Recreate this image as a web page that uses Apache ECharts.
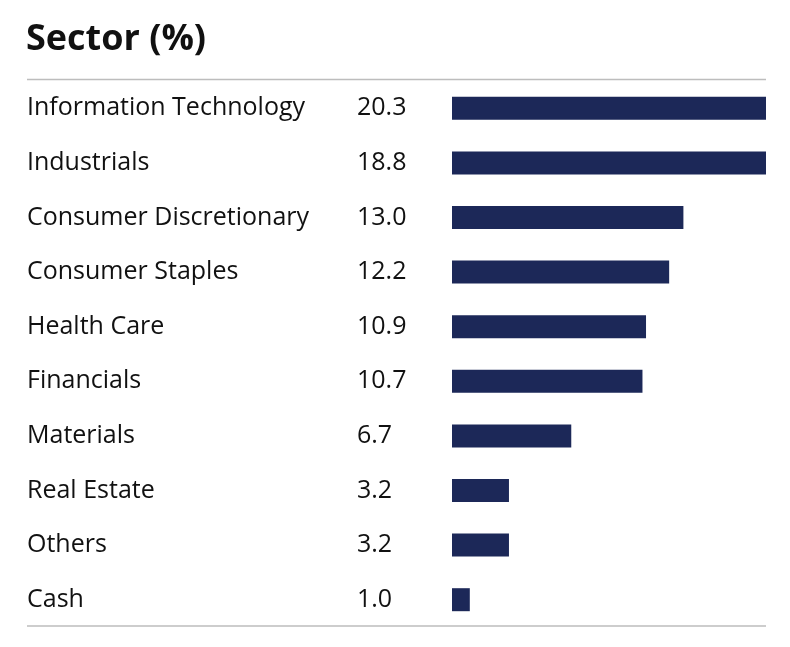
<!DOCTYPE html>
<html><head><meta charset="utf-8">
<script src="https://cdn.jsdelivr.net/npm/echarts@6/dist/echarts.min.js"></script>
<style>html,body{margin:0;padding:0;background:#fff}#c{width:790px;height:647px}</style>
</head><body><div id="c"></div>
<script>
var categories = ["Information Technology","Industrials","Consumer Discretionary","Consumer Staples","Health Care","Financials","Materials","Real Estate","Others","Cash"];
var values = [20.3,18.8,13.0,12.2,10.9,10.7,6.7,3.2,3.2,1.0];
var valueLabels = values.map(function(v){return v.toFixed(1);});
var title = "Sector (%)";

var chart = echarts.init(document.getElementById('c'));
var font = '"Open Sans", sans-serif';
chart.setOption({
  animation:false,
  title:{text:title,left:21,top:17,textStyle:{fontFamily:font,fontWeight:'bold',fontSize:36,color:'#111'}},
  grid:{left:452,width:314,top:81,height:546},
  xAxis:{type:'value',min:0,max:17.64,show:false},
  yAxis:[
    {type:'category',data:categories,inverse:true,axisLine:{show:false},axisTick:{show:false},
     axisLabel:{align:'left',margin:425,fontFamily:font,fontSize:25,color:'#111',padding:[3,0,0,0]}},
    {type:'category',data:valueLabels,inverse:true,position:'left',offset:0,axisLine:{show:false},axisTick:{show:false},
     axisLabel:{align:'left',margin:95,fontFamily:font,fontSize:25,color:'#111',padding:[3,0,0,0]}}
  ],
  graphic:[
    {type:'line',shape:{x1:27,y1:79.5,x2:766,y2:79.5},style:{stroke:'#bdbdbd',lineWidth:1.5}},
    {type:'line',shape:{x1:27,y1:626,x2:766,y2:626},style:{stroke:'#bdbdbd',lineWidth:1.5}}
  ],
  series:[{type:'bar',data:values,barWidth:23,clip:true,itemStyle:{color:'#1c2858'}}]
});
</script></body></html>
